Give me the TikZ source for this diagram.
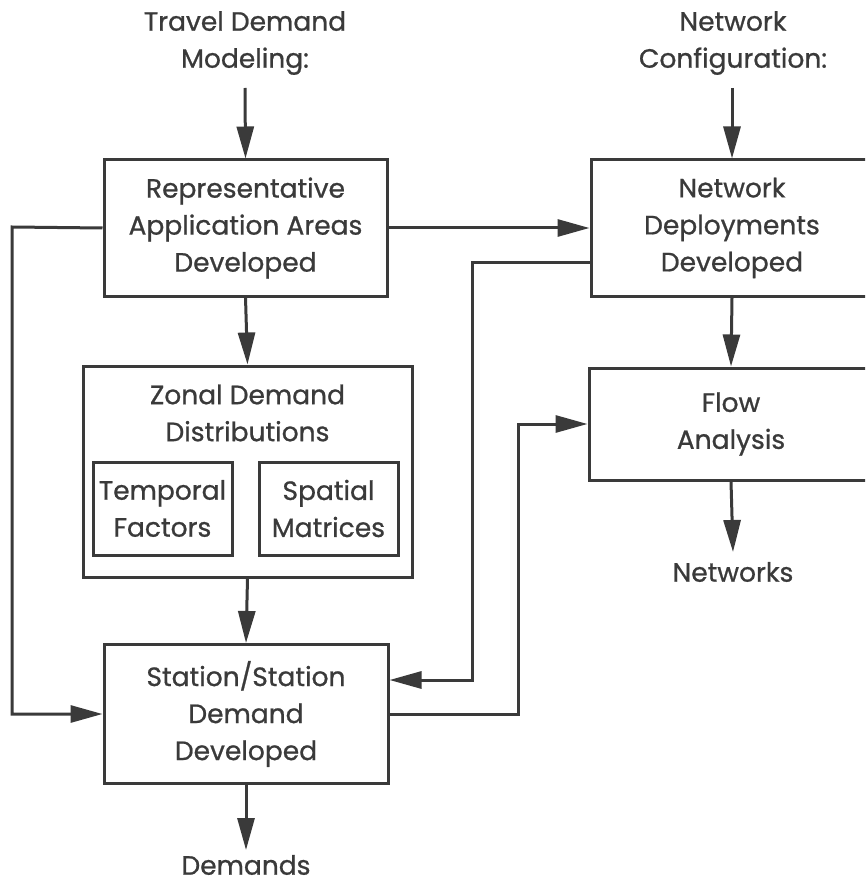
\documentclass[tikz,border=0pt]{standalone}
\usepackage{fontspec}
\setmainfont{Poppins}[FakeBold=0.8]
\usetikzlibrary{arrows.meta,calc}
\definecolor{ink}{HTML}{3A3A3A}
\begin{document}
\begin{tikzpicture}[x=1pt,y=-1pt,
  font=\fontsize{26.5}{37}\selectfont,
  every node/.style={text=ink},
  box/.style={draw=ink,line width=3pt,align=center,inner sep=0pt,fill=none},
  lbl/.style={align=center,inner sep=0pt},
  conn/.style={draw=ink,line width=3pt,-{Triangle[length=32pt,width=17pt]}},
  plain/.style={draw=ink,line width=3pt}]
\useasboundingbox (0,0) rectangle (865,890);
\clip (0,0) rectangle (865,890);
\fill[white] (0,0) rectangle (865,890);
% nodes
\node[box,minimum width=283pt,minimum height=136pt] (raa) at (245.5,228) {Representative\\Application Areas\\Developed};
\node[box,minimum width=282pt,minimum height=136pt] (nd) at (732,228) {Network\\Deployments\\Developed};
\node[box,minimum width=329pt,minimum height=211pt] (zd) at (247.5,471.5) {};
\node[lbl] (zdt) at (247.5,413) {Zonal Demand\\Distributions};
\node[box,minimum width=139pt,minimum height=93pt] (tf) at (162.5,508.5) {Temporal\\Factors};
\node[box,minimum width=139pt,minimum height=93pt] (sm) at (328.5,508.5) {Spatial\\Matrices};
\node[box,minimum width=284pt,minimum height=112pt] (fa) at (731,424) {Flow\\Analysis};
\node[box,minimum width=284pt,minimum height=139pt] (st) at (246,714) {Station/Station\\Demand\\Developed};
\node[lbl] (tdm) at (245,43) {Travel Demand\\Modeling:};
\node[lbl] (nc) at (733,43) {Network\\Configuration:};
\node[lbl] (nw) at (733,572) {Networks};
\node[lbl] (dm) at (246,865) {Demands};
% connector waypoints
\coordinate (tdmEnd) at (245,88);
\coordinate (ncEnd) at (732,88);
\coordinate (nwTip) at (733,552);
\coordinate (dmTip) at (246,850);
\coordinate (l1) at (12,227);
\coordinate (l2) at (12,714);
\coordinate (ndOut) at ($(nd.west)+(0,35)$);
\coordinate (m1) at (472,263);
\coordinate (m2) at (472,680);
\coordinate (stIn) at ($(st.east)+(0,-34)$);
\coordinate (r1) at (518,714);
\coordinate (r2) at (518,424);
% connectors
\draw[conn] (tdmEnd) -- (raa.north);
\draw[conn] (ncEnd) -- (nd.north);
\draw[conn] (raa.east) -- (nd.west);
\draw[conn] (raa.west) -- (l1) -- (l2) -- (st.west);
\draw[conn] (raa.south) -- (zd.north);
\draw[conn] (zd.south) -- (st.north);
\draw[conn] (ndOut) -- (m1) -- (m2) -- (stIn);
\draw[conn] (st.east) -- (r1) -- (r2) -- (fa.west);
\draw[conn] (nd.south) -- (fa.north);
\draw[conn] (fa.south) -- (nwTip);
\draw[conn] (st.south) -- (dmTip);
\end{tikzpicture}
\end{document}
